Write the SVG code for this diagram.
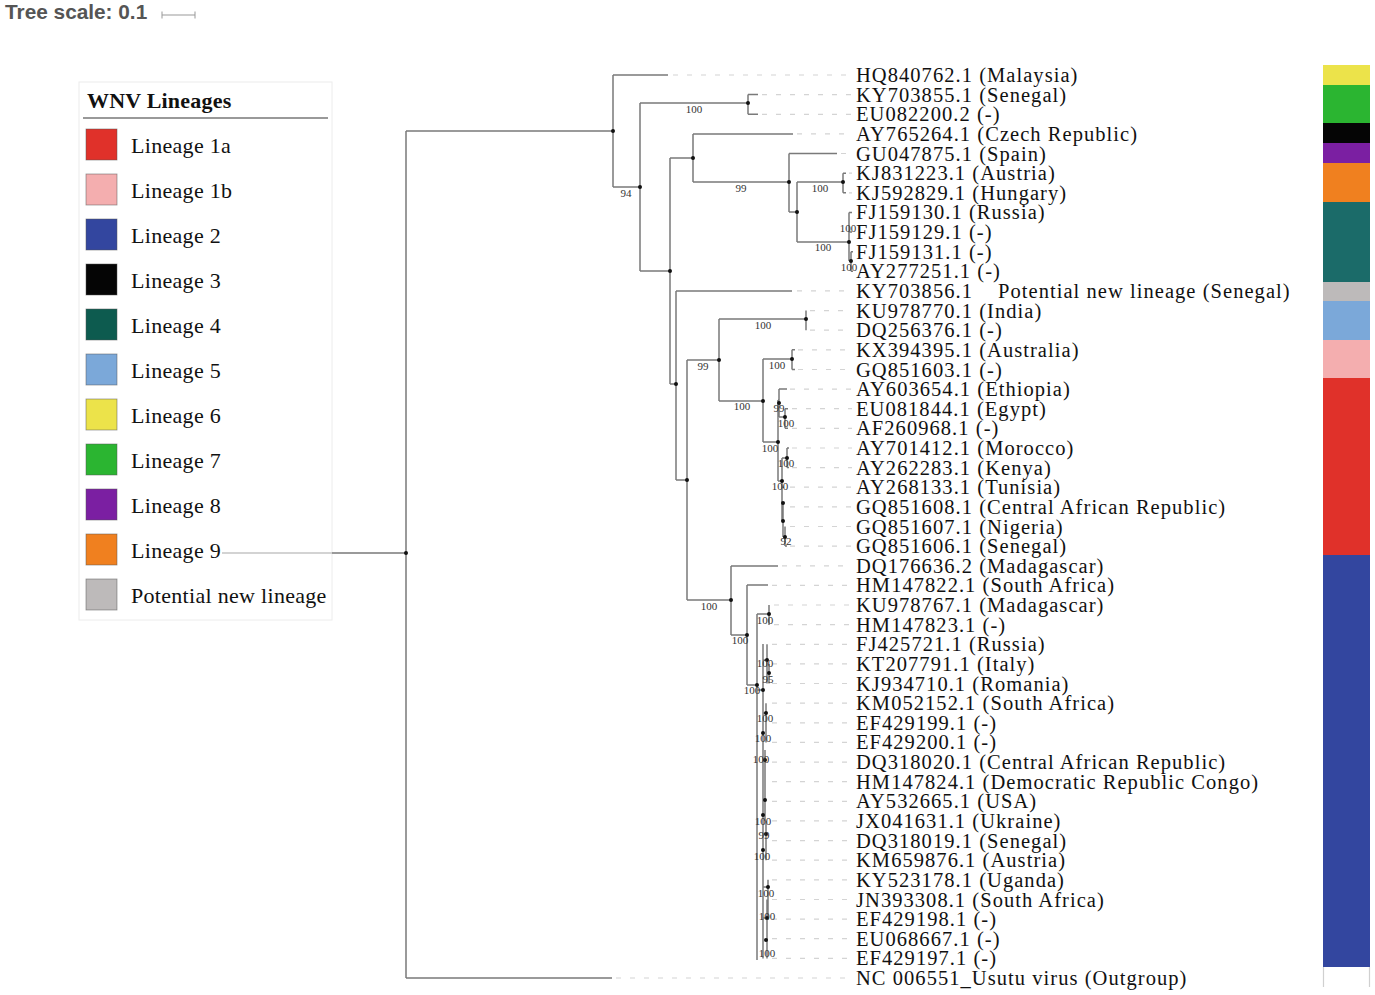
<svg xmlns="http://www.w3.org/2000/svg" width="1375" height="995" viewBox="0 0 1375 995">
<style>
.br{stroke:#7a7a7a;stroke-width:1.5;fill:none}
.ld{stroke:#d4d4d4;stroke-width:1.2;stroke-dasharray:5 9;fill:none}
.lab{font-family:"Liberation Serif","Times New Roman",serif;font-size:20.5px;letter-spacing:1.05px;fill:#111}
.bs{font-family:"Liberation Serif","Times New Roman",serif;font-size:11px;fill:#333;text-anchor:middle}
.lg{font-family:"Liberation Serif","Times New Roman",serif;font-size:22px;letter-spacing:0.3px;fill:#111}
.sw{stroke:#555;stroke-width:0.8;stroke-opacity:0.6}
</style>
<rect width="1375" height="995" fill="#fff"/>
<g id="scale">
<text x="5" y="19" font-family="Liberation Sans,Arial,sans-serif" font-weight="bold" font-size="20.8" fill="#555">Tree scale: 0.1</text>
<path d="M162 15H195M162 11.5V18.5M195 11.5V18.5" stroke="#999" stroke-width="1" fill="none"/>
</g>
<g id="legend">
<rect x="79" y="82" width="253" height="538" fill="#fff" stroke="#ececec" stroke-width="1"/>
<text x="87" y="108" font-family="Liberation Serif,Times New Roman,serif" font-weight="bold" font-size="22" letter-spacing="0.2" fill="#111">WNV Lineages</text>
<line x1="83" y1="118" x2="328" y2="118" stroke="#777" stroke-width="1.5"/>
<rect class="sw" x="86" y="129" width="31" height="31" fill="#e0312a"/><text class="lg" x="131" y="153">Lineage 1a</text>
<rect class="sw" x="86" y="174" width="31" height="31" fill="#f4aeaf"/><text class="lg" x="131" y="198">Lineage 1b</text>
<rect class="sw" x="86" y="219" width="31" height="31" fill="#33469f"/><text class="lg" x="131" y="243">Lineage 2</text>
<rect class="sw" x="86" y="264" width="31" height="31" fill="#050505"/><text class="lg" x="131" y="288">Lineage 3</text>
<rect class="sw" x="86" y="309" width="31" height="31" fill="#0d5b4f"/><text class="lg" x="131" y="333">Lineage 4</text>
<rect class="sw" x="86" y="354" width="31" height="31" fill="#7ba8d9"/><text class="lg" x="131" y="378">Lineage 5</text>
<rect class="sw" x="86" y="399" width="31" height="31" fill="#ece34a"/><text class="lg" x="131" y="423">Lineage 6</text>
<rect class="sw" x="86" y="444" width="31" height="31" fill="#2bb531"/><text class="lg" x="131" y="468">Lineage 7</text>
<rect class="sw" x="86" y="489" width="31" height="31" fill="#7b1fa2"/><text class="lg" x="131" y="513">Lineage 8</text>
<rect class="sw" x="86" y="534" width="31" height="31" fill="#f0801f"/><text class="lg" x="131" y="558">Lineage 9</text>
<rect class="sw" x="86" y="579" width="31" height="31" fill="#bdbaba"/><text class="lg" x="131" y="603">Potential new lineage</text>
</g>
<g id="leaders">
<path class="ld" d="M673 75H852M762 94.6H852M762 114.3H852M797 133.9H852M841 153.5H852M849 173.2H852M849 192.8H852"/>
<path class="ld" d="M797 290.9H852M810 310.6H852M810 330.2H852M798 349.8H852M798 369.5H852M790 389.1H852M792 408.7H852M792 428.3H852M792 448H852M792 467.6H852M790 487.2H852M790 506.9H852M790 526.5H852M790 546.1H852"/>
<path class="ld" d="M782 565.8H852M772 585.4H852M774 605H852M774 624.6H852M772 644.3H852M772 663.9H852M772 683.5H852M772 703.2H852M772 722.8H852M772 742.4H852M772 762.1H852M772 781.7H852M772 801.3H852M772 820.9H852M772 840.6H852M772 860.2H852M772 879.8H852M772 899.5H852M772 919.1H852M772 938.7H852M772 958.4H852M616 978H852"/>
</g>
<g id="connectors">
<path d="M222 553H332" stroke="#c4c4c4" stroke-width="1.3" fill="none"/>
<path class="br" d="M332 553H406M406 131V978M406 131H613M406 978H612"/>
<path class="br" d="M613 75V187M613 75H668M613 187H640M640 103V271M640 103H748M748 94.6V114.3M748 94.6H758M748 114.3H758"/>
<path class="br" d="M640 271H670M670 158V384M670 158H693M693 134V182M693 134H793M693 182H789M789 153.5V212M789 153.5H837M789 212H797M797 182V242M797 182H843M843 173.2V192.8M843 173.2H846M843 192.8H846M797 242H849M849 212.4V261M849 212.4H852M849 232H852M849 261H851M851 251.7V271.3M851 251.7H853M851 271.3H853"/>
<path class="br" d="M670 384H676M676 291V480M676 291H792M676 480H687M687 360V600M687 360H719M719 319V401M719 319H806M806 310.6V330.2M719 401H763M763 359V442M763 359H792M792 349.8V369.5M792 349.8H795M792 369.5H795"/>
<path class="br" d="M763 442H778M778 400V481M778 400H779M779 389.1V417M779 389.1H787M779 417H785M785 408.7V428.3M785 408.7H788M785 428.3H788M778 481H782M782 458V487.2M782 458H787M787 448V467.6M787 448H789M787 467.6H789M782 487.2H784M782 481V521M782 503H783M782 521H783M783 503V537M783 537H785M785 526.5V546.1M785 546.1H787"/>
<path class="br" d="M687 600H731M731 566V635M731 566H778M731 635H747M747 585V685M747 585H768M747 685H757M757 614V960M757 614H769M769 605V625M757 690H763M763 644V958.4"/>
<path class="br" d="M763 660H767M767 644.3V683.5M767 673H769M769 663.9V683.5M763 713H766M766 703.2V742.4M763 760H765M765 750V781.7M763 800H765M765 781.7V820.9M763 834H766M766 820.9V860.2M763 887H768M768 879.8V919.1M763 918H767M767 899.5V958.4"/>
</g>
<g id="dots" fill="#111">
<circle cx="406" cy="553" r="2"/><circle cx="613" cy="131" r="2"/><circle cx="640" cy="187" r="2"/><circle cx="748" cy="103" r="2"/><circle cx="670" cy="271" r="2"/><circle cx="693" cy="158" r="2"/><circle cx="789" cy="182" r="2"/><circle cx="797" cy="212" r="2"/><circle cx="843" cy="182" r="2"/><circle cx="849" cy="242" r="2"/><circle cx="851" cy="261" r="2"/>
<circle cx="676" cy="384" r="2"/><circle cx="687" cy="480" r="2"/><circle cx="719" cy="360" r="2"/><circle cx="806" cy="319" r="2"/><circle cx="763" cy="401" r="2"/><circle cx="792" cy="359" r="2"/><circle cx="778" cy="442" r="2"/><circle cx="779" cy="403" r="2"/><circle cx="785" cy="417" r="2"/><circle cx="782" cy="481" r="2"/><circle cx="787" cy="458" r="2"/><circle cx="783" cy="503" r="2"/><circle cx="783" cy="521" r="2"/><circle cx="785" cy="537" r="2"/>
<circle cx="731" cy="600" r="2"/><circle cx="747" cy="635" r="2"/><circle cx="757" cy="685" r="2"/><circle cx="769" cy="614" r="2"/><circle cx="763" cy="690" r="2"/><circle cx="767" cy="660" r="2"/><circle cx="769" cy="673" r="2"/><circle cx="766" cy="713" r="2"/><circle cx="765" cy="760" r="2"/><circle cx="765" cy="800" r="2"/><circle cx="766" cy="834" r="2"/><circle cx="768" cy="887" r="2"/><circle cx="767" cy="918" r="2"/><circle cx="763" cy="733" r="2"/><circle cx="763" cy="815" r="2"/><circle cx="763" cy="850" r="2"/><circle cx="766" cy="940" r="2"/>
</g>
<g id="support">
<text class="bs" x="626" y="197">94</text>
<text class="bs" x="694" y="113">100</text>
<text class="bs" x="741" y="192">99</text>
<text class="bs" x="820" y="192">100</text>
<text class="bs" x="823" y="251">100</text>
<text class="bs" x="848" y="232">100</text>
<text class="bs" x="849" y="271">100</text>
<text class="bs" x="703" y="370">99</text>
<text class="bs" x="763" y="329">100</text>
<text class="bs" x="742" y="410">100</text>
<text class="bs" x="777" y="369">100</text>
<text class="bs" x="770" y="452">100</text>
<text class="bs" x="779" y="412">99</text>
<text class="bs" x="786" y="427">100</text>
<text class="bs" x="786" y="467">100</text>
<text class="bs" x="780" y="490">100</text>
<text class="bs" x="786" y="545">92</text>
<text class="bs" x="709" y="610">100</text>
<text class="bs" x="740" y="644">100</text>
<text class="bs" x="752" y="694">100</text>
<text class="bs" x="765" y="624">100</text>
<text class="bs" x="765" y="667">100</text>
<text class="bs" x="768" y="683">95</text>
<text class="bs" x="765" y="722">100</text>
<text class="bs" x="763" y="742">100</text>
<text class="bs" x="761" y="763">100</text>
<text class="bs" x="763" y="825">100</text>
<text class="bs" x="764" y="839">99</text>
<text class="bs" x="762" y="860">100</text>
<text class="bs" x="766" y="897">100</text>
<text class="bs" x="767" y="920">100</text>
<text class="bs" x="767" y="957">100</text>
</g>
<g id="labels">
<text class="lab" x="856" y="82">HQ840762.1 (Malaysia)</text>
<text class="lab" x="856" y="101.6">KY703855.1 (Senegal)</text>
<text class="lab" x="856" y="121.3">EU082200.2 (-)</text>
<text class="lab" x="856" y="140.9">AY765264.1 (Czech Republic)</text>
<text class="lab" x="856" y="160.5">GU047875.1 (Spain)</text>
<text class="lab" x="856" y="180.2">KJ831223.1 (Austria)</text>
<text class="lab" x="856" y="199.8">KJ592829.1 (Hungary)</text>
<text class="lab" x="856" y="219.4">FJ159130.1 (Russia)</text>
<text class="lab" x="856" y="239">FJ159129.1 (-)</text>
<text class="lab" x="856" y="258.7">FJ159131.1 (-)</text>
<text class="lab" x="856" y="278.3">AY277251.1 (-)</text>
<text class="lab" x="856" y="297.9">KY703856.1<tspan x="998">Potential new lineage (Senegal)</tspan></text>
<text class="lab" x="856" y="317.6">KU978770.1 (India)</text>
<text class="lab" x="856" y="337.2">DQ256376.1 (-)</text>
<text class="lab" x="856" y="356.8">KX394395.1 (Australia)</text>
<text class="lab" x="856" y="376.5">GQ851603.1 (-)</text>
<text class="lab" x="856" y="396.1">AY603654.1 (Ethiopia)</text>
<text class="lab" x="856" y="415.7">EU081844.1 (Egypt)</text>
<text class="lab" x="856" y="435.3">AF260968.1 (-)</text>
<text class="lab" x="856" y="455">AY701412.1 (Morocco)</text>
<text class="lab" x="856" y="474.6">AY262283.1 (Kenya)</text>
<text class="lab" x="856" y="494.2">AY268133.1 (Tunisia)</text>
<text class="lab" x="856" y="513.9">GQ851608.1 (Central African Republic)</text>
<text class="lab" x="856" y="533.5">GQ851607.1 (Nigeria)</text>
<text class="lab" x="856" y="553.1">GQ851606.1 (Senegal)</text>
<text class="lab" x="856" y="572.8">DQ176636.2 (Madagascar)</text>
<text class="lab" x="856" y="592.4">HM147822.1 (South Africa)</text>
<text class="lab" x="856" y="612">KU978767.1 (Madagascar)</text>
<text class="lab" x="856" y="631.6">HM147823.1 (-)</text>
<text class="lab" x="856" y="651.3">FJ425721.1 (Russia)</text>
<text class="lab" x="856" y="670.9">KT207791.1 (Italy)</text>
<text class="lab" x="856" y="690.5">KJ934710.1 (Romania)</text>
<text class="lab" x="856" y="710.2">KM052152.1 (South Africa)</text>
<text class="lab" x="856" y="729.8">EF429199.1 (-)</text>
<text class="lab" x="856" y="749.4">EF429200.1 (-)</text>
<text class="lab" x="856" y="769.1">DQ318020.1 (Central African Republic)</text>
<text class="lab" x="856" y="788.7">HM147824.1 (Democratic Republic Congo)</text>
<text class="lab" x="856" y="808.3">AY532665.1 (USA)</text>
<text class="lab" x="856" y="827.9">JX041631.1 (Ukraine)</text>
<text class="lab" x="856" y="847.6">DQ318019.1 (Senegal)</text>
<text class="lab" x="856" y="867.2">KM659876.1 (Austria)</text>
<text class="lab" x="856" y="886.8">KY523178.1 (Uganda)</text>
<text class="lab" x="856" y="906.5">JN393308.1 (South Africa)</text>
<text class="lab" x="856" y="926.1">EF429198.1 (-)</text>
<text class="lab" x="856" y="945.7">EU068667.1 (-)</text>
<text class="lab" x="856" y="965.4">EF429197.1 (-)</text>
<text class="lab" x="856" y="985">NC 006551_Usutu virus (Outgroup)</text>
</g>
<g id="colorstrip">
<rect x="1323" y="65" width="47" height="20" fill="#ece34a"/>
<rect x="1323" y="85" width="47" height="38" fill="#2bb531"/>
<rect x="1323" y="123" width="47" height="20" fill="#050505"/>
<rect x="1323" y="143" width="47" height="20" fill="#7b1fa2"/>
<rect x="1323" y="163" width="47" height="39" fill="#f0801f"/>
<rect x="1323" y="202" width="47" height="80" fill="#1b6b69"/>
<rect x="1323" y="282" width="47" height="19" fill="#bdbaba"/>
<rect x="1323" y="301" width="47" height="39" fill="#7ba8d9"/>
<rect x="1323" y="340" width="47" height="38" fill="#f4aeaf"/>
<rect x="1323" y="378" width="47" height="177" fill="#e0312a"/>
<rect x="1323" y="555" width="47" height="412" fill="#33469f"/>
<path d="M1323.5 967V987M1369.5 967V987" stroke="#d0d0d0" stroke-width="1.2"/>
</g>
</svg>
